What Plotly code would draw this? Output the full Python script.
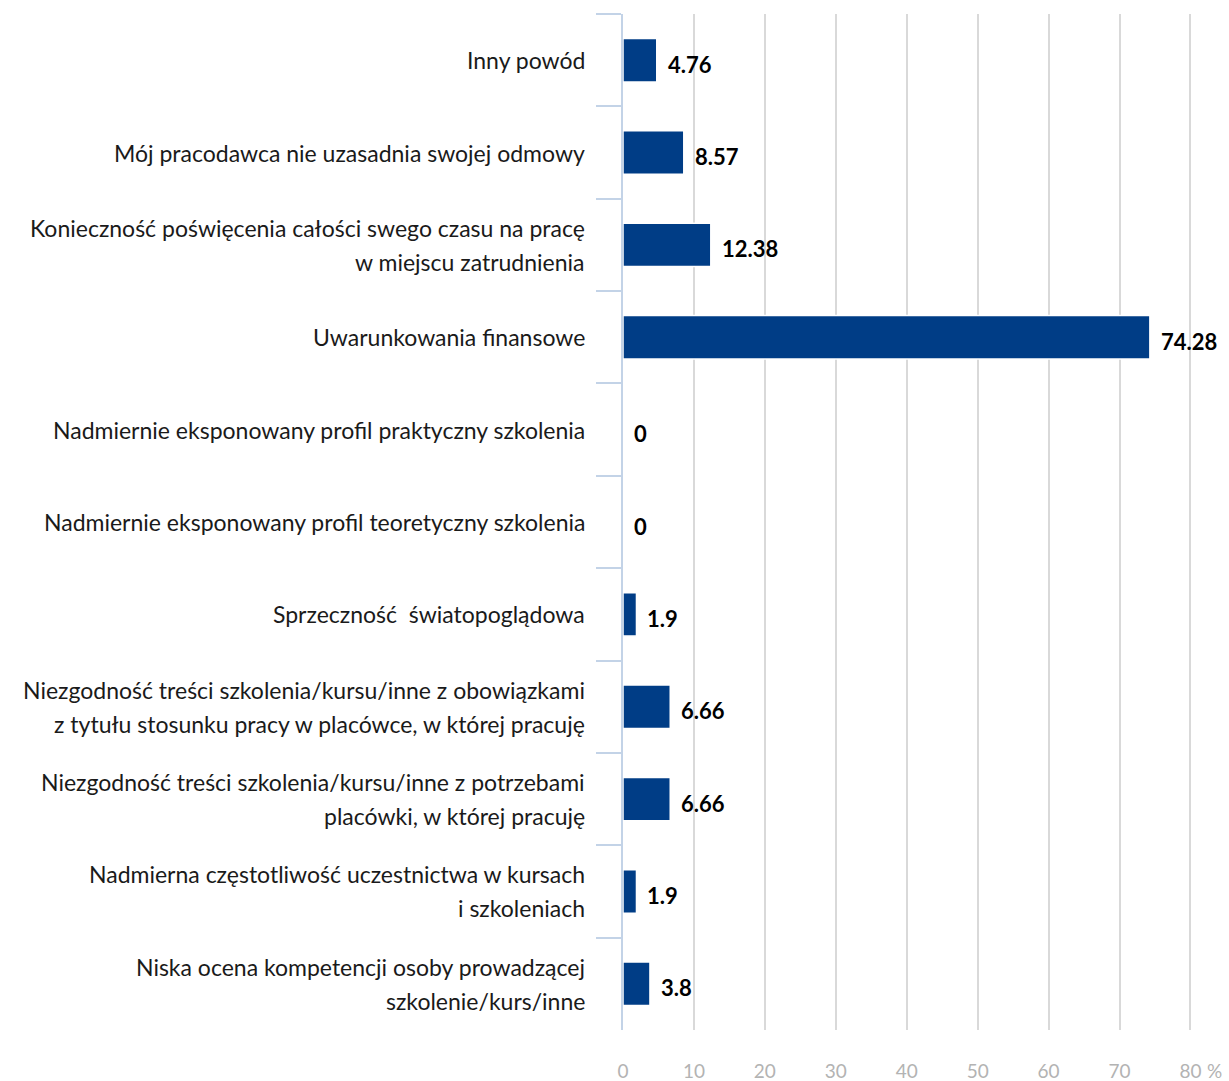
import plotly.graph_objects as go

# Reasons for refusal, listed top to bottom; "\n" marks a line break in the label
categories = [
    "Inny powód",
    "Mój pracodawca nie uzasadnia swojej odmowy",
    "Konieczność poświęcenia całości swego czasu na pracę\nw miejscu zatrudnienia",
    "Uwarunkowania finansowe",
    "Nadmiernie eksponowany profil praktyczny szkolenia",
    "Nadmiernie eksponowany profil teoretyczny szkolenia",
    "Sprzeczność  światopoglądowa",
    "Niezgodność treści szkolenia/kursu/inne z obowiązkami\nz tytułu stosunku pracy w placówce, w której pracuję",
    "Niezgodność treści szkolenia/kursu/inne z potrzebami\nplacówki, w której pracuję",
    "Nadmierna częstotliwość uczestnictwa w kursach\ni szkoleniach",
    "Niska ocena kompetencji osoby prowadzącej\nszkolenie/kurs/inne",
]
values = [4.76, 8.57, 12.38, 74.28, 0, 0, 1.9, 6.66, 6.66, 1.9, 3.8]
value_labels = ["4.76", "8.57", "12.38", "74.28", "0", "0", "1.9", "6.66", "6.66", "1.9", "3.8"]
x_ticks = [0, 10, 20, 30, 40, 50, 60, 70, 80]

BAR = "#003d86"
AXIS = "#c3d3e7"
GRID = "#d9d9d9"
FONT = "Lato"

fig = go.Figure(
    go.Bar(
        x=values,
        y=categories,
        orientation="h",
        marker=dict(color=BAR, line=dict(color="white", width=1.5)),
        width=0.47,
        hoverinfo="skip",
    )
)

annotations = []
# category labels, one annotation per line so the line spacing can be set
LINE_STEP = 34
for cat in categories:
    lines = cat.split("\n")
    n = len(lines)
    for i, line in enumerate(lines):
        annotations.append(dict(
            x=0, y=cat, xref="x", yref="y",
            text=line, showarrow=False,
            xanchor="right", yanchor="middle",
            xshift=-36, yshift=((n - 1) / 2 - i) * LINE_STEP,
            font=dict(family=FONT, size=23, color="#1a1a1a"),
        ))

# value labels just past each bar end
for cat, v, lab in zip(categories, values, value_labels):
    annotations.append(dict(
        x=v, y=cat, xref="x", yref="y",
        text="<b>" + lab + "</b>", showarrow=False,
        xanchor="left", yanchor="middle",
        xshift=9, yshift=-4,
        font=dict(family=FONT, size=22, color="#000000"),
    ))

# unit label next to the "80" tick
annotations.append(dict(
    x=80, y=0, xref="x", yref="paper",
    text="%", showarrow=False,
    xanchor="left", yanchor="middle",
    xshift=15, yshift=-40,
    font=dict(family=FONT, size=19, color="#b3b3b3"),
))

fig.update_layout(
    width=1229, height=1081,
    margin=dict(l=623, r=35, t=14, b=51, autoexpand=False),
    paper_bgcolor="white", plot_bgcolor="white",
    showlegend=False,
    bargap=0.53,
    annotations=annotations,
    xaxis=dict(
        # headroom past 80 keeps its grid line off the plot edge
        range=[0, 80.5],
        tickvals=x_ticks,
        ticktext=[str(t) for t in x_ticks],
        showgrid=True, gridcolor=GRID, gridwidth=2,
        zeroline=False, showline=False,
        ticks="", ticklabelstandoff=28,
        tickfont=dict(family=FONT, size=19, color="#b3b3b3"),
        layer="below traces",
        automargin=False,
        fixedrange=True,
    ),
    yaxis=dict(
        autorange="reversed",
        tickson="boundaries",
        ticks="outside", ticklen=25, tickwidth=2, tickcolor=AXIS,
        showticklabels=False,
        showline=True, linecolor=AXIS, linewidth=2,
        showgrid=False, zeroline=False,
        layer="below traces",
        automargin=False,
        fixedrange=True,
    ),
)

fig.write_html("out.html")
